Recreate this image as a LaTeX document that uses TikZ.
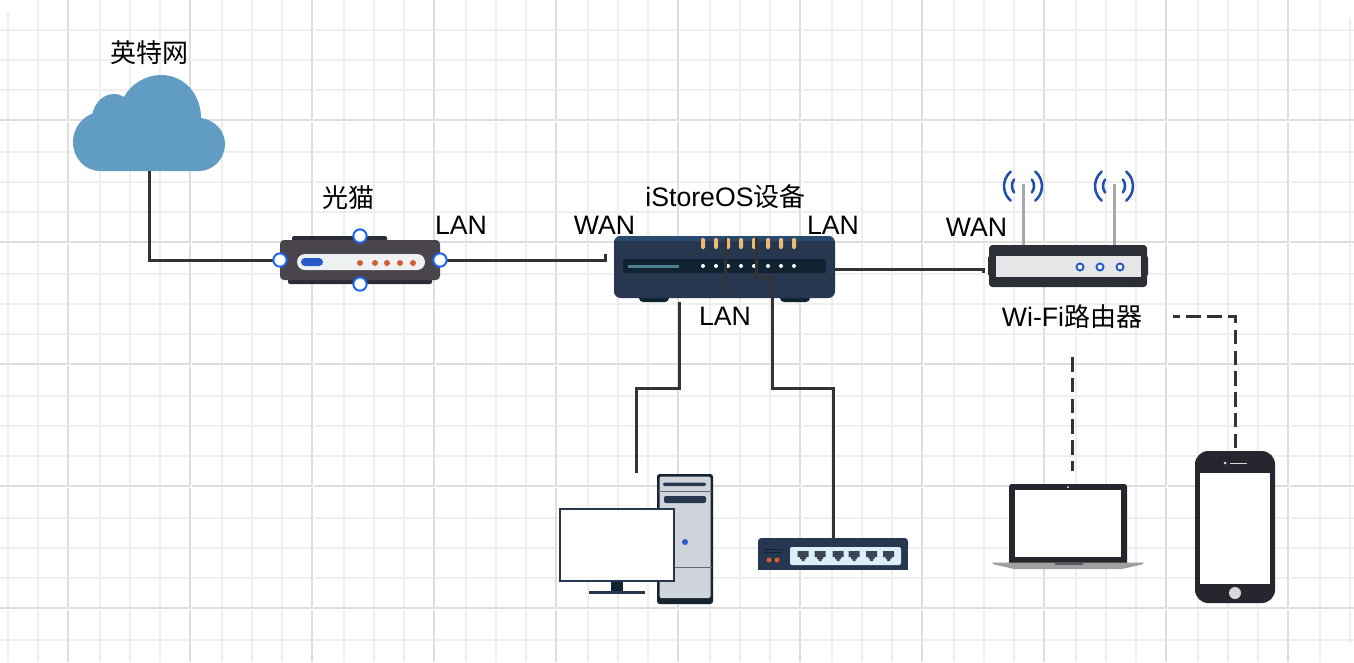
\documentclass[tikz,border=0pt]{standalone}
\usepackage{fontspec}
\setmainfont{Liberation Sans}
\newfontfamily\cjk{Noto Sans CJK SC}
\def\px{0.75pt}
\definecolor{gridminor}{HTML}{EEEEEE}
\definecolor{gridmajor}{HTML}{DEDEDE}
\definecolor{wire}{HTML}{333333}
\definecolor{cloudblue}{HTML}{619DC3}
\definecolor{navy}{HTML}{26374F}
\definecolor{navytop}{HTML}{2B4A6F}
\definecolor{deep}{HTML}{0F2430}
\definecolor{modembody}{HTML}{4A444C}
\definecolor{modemdark}{HTML}{2A2D38}
\definecolor{pale}{HTML}{EEF1F2}
\definecolor{accent}{HTML}{2A5CC8}
\definecolor{orangedot}{HTML}{D35F34}
\definecolor{led}{HTML}{EDB977}
\definecolor{handle}{HTML}{1A66F0}
\definecolor{gadget}{HTML}{26262F}
\definecolor{routerdark}{HTML}{2C3036}
\definecolor{towerfill}{HTML}{CFD3DA}
\definecolor{wifi}{HTML}{1F4FA8}
\definecolor{tealbar}{HTML}{4F8090}
\definecolor{antenna}{HTML}{A8A8A8}
\definecolor{routerface}{HTML}{E6E6E6}
\definecolor{towerdark}{HTML}{16242F}
\definecolor{towerline}{HTML}{5F6B75}
\definecolor{swpanel}{HTML}{DCEEF7}
\definecolor{swport}{HTML}{3E4456}
\definecolor{lapbase}{HTML}{A0A0A0}
\definecolor{lapnotch}{HTML}{5A5A60}
\definecolor{softgrey}{HTML}{D8D8D8}
\tikzset{
  x=0.75pt,y=-0.75pt,
  iconbox/.style={inner sep=0pt,outer sep=0pt,minimum width=#1},
  lbl/.style={inner sep=0pt,font=\fontsize{20}{22}\selectfont,text=black},
  link/.style={draw=wire,line width=2.25pt,line join=miter},
  wireless/.style={link,dash pattern=on 10.9pt off 4.7pt},
  grab/.style={circle,draw=handle,fill=white,line width=1.5pt,inner sep=0pt,minimum size=10pt},
}
\newcommand{\han}[1]{{\cjk\fontsize{19.5}{22}\selectfont #1}}
\begin{document}
\begin{tikzpicture}
\useasboundingbox (0,0) rectangle (1354,662);
\fill[white] (0,0) rectangle (1354,662);
% grid
\foreach \g in {38,100,130,160,222,252,282,344,374,404,466,496,526,588,618,648,710,740,770,832,862,892,954,984,1014,1076,1106,1136,1198,1228,1258,1320}
  \draw[gridminor,line width=1.5pt] (\g,0) -- (\g,662);
\draw[gridminor,line width=1.5pt] (8,12) -- (8,662);
\draw[gridminor,line width=1.5pt] (1350,18) -- (1350,643);
\foreach \g in {30,60,90,152,182,212,274,304,334,396,426,456,518,548,578,640}
  \draw[gridminor,line width=1.5pt] (0,\g) -- (1354,\g);
\foreach \g in {120,242,364,486,608}
  \draw[gridmajor,line width=1.5pt] (0,\g) -- (1354,\g);
\foreach \g in {68,190,312,434,556,678,800,922,1044,1166,1288}
  \draw[gridmajor,line width=1.5pt] (\g,0) -- (\g,662);
\foreach \g in {68,190,312,434,556,678,800,922,1044,1166,1288}
  \fill[white] ({\g+1},0) rectangle ({\g+2.3},662);
\foreach \g in {120,242,364,486,608}
  \fill[white] (0,{\g+1}) rectangle (1354,{\g+2.3});

% device frames
\node[iconbox=152*\px,minimum height=96*\px] (cloud) at (149,123) {};
\node[iconbox=160*\px,minimum height=48*\px] (modem) at (360,260) {};
\node[iconbox=221*\px,minimum height=66*\px] (istore) at (724.5,269) {};
\node[iconbox=160*\px,minimum height=42*\px] (router) at (1068,266) {};
\node[iconbox=154*\px,minimum height=130*\px] (pc) at (636,539) {};
\node[iconbox=150*\px,minimum height=32*\px] (switch) at (833,554) {};
\node[iconbox=152*\px,minimum height=85*\px] (laptop) at (1068,527) {};
\node[iconbox=80*\px,minimum height=152*\px] (phone) at (1235,527) {};

% cloud
\fill[cloudblue] (100,171) .. controls (85,171) and (73,158) .. (73,142)
  .. controls (73,129) and (81,118) .. (92.5,113.5)
  .. controls (95,102) and (104,94) .. (114,94)
  .. controls (118,94) and (121,95) .. (124,97)
  .. controls (131,84) and (145.6,75) .. (161,75)
  .. controls (184,75) and (201,94) .. (201,118)
  .. controls (215,120) and (225,131) .. (225,144)
  .. controls (225,159) and (213,171) .. (199,171) -- cycle;

% modem
\fill[modemdark,rounded corners=1.5pt] (292,236) rectangle (387,244);
\fill[modemdark,rounded corners=1.5pt] (288,276) rectangle (432,284);
\fill[modembody,rounded corners=3pt] (280,240) rectangle (440,280);
\fill[pale,rounded corners=6pt] (297,254) rectangle (425,270);
\fill[accent,rounded corners=3pt] (301,258) rectangle (323,266);
\foreach \x in {360,375,387,400,413} \fill[orangedot] (\x,263) circle[radius=3];

% iStoreOS device
\fill[deep,rounded corners=3pt] (639,292) rectangle (669,302);
\fill[deep,rounded corners=3pt] (780,292) rectangle (810,302);
\fill[navy,rounded corners=5pt] (614,236) rectangle (835,298);
\begin{scope}
\clip[rounded corners=5pt] (614,236) rectangle (835,298);
\fill[navytop] (614,236) rectangle (835,241);
\end{scope}
\fill[deep,rounded corners=1.5pt] (623,259) rectangle (826,273);
\fill[tealbar] (628,265) rectangle (679,268);
\foreach \x in {703,716,728,741,754,768,781,794} {
  \fill[white] (\x,266) circle[radius=2];
  \fill[led,rounded corners=1pt] ({\x-2},238) rectangle ({\x+2},249);
}

% router
\foreach \x in {1023,1114} {
  \fill[antenna] ({\x-1.5},184) rectangle ({\x+1.5},246);
  \draw[wifi,line width=1.9pt,line cap=round] ({\x-12.2},171.5) arc[start angle=230,end angle=130,radius=19];
  \draw[wifi,line width=1.9pt,line cap=round] ({\x+12.2},171.5) arc[start angle=-50,end angle=50,radius=19];
  \draw[wifi,line width=1.9pt,line cap=round] ({\x-8.9},179.5) arc[start angle=216,end angle=144,radius=11];
  \draw[wifi,line width=1.9pt,line cap=round] ({\x+8.9},179.5) arc[start angle=-36,end angle=36,radius=11];
}
\fill[routerdark,rounded corners=1.5pt] (988,256) rectangle (1148,276);
\fill[routerdark,rounded corners=2.5pt] (989,245) rectangle (1147,287);
\fill[routerface] (996,256) rectangle (1141,277);
\foreach \x in {1080,1100,1120} \draw[accent,line width=1.5pt,fill=white] (\x,267) circle[radius=3.5];

% PC
\fill[towerdark,rounded corners=2pt] (657,474) rectangle (713,604);
\fill[towerfill,rounded corners=1.5pt] (659.5,476.5) rectangle (710.5,598);
\fill[towerline] (658,490.5) rectangle (712,491.5);
\fill[towerline] (658,566.5) rectangle (712,567.5);
\fill[navy,rounded corners=1.5pt] (663,482.5) rectangle (706,486);
\fill[navy,rounded corners=1.5pt] (664,496) rectangle (706,503);
\fill[accent] (685,542) circle[radius=3];
\fill[deep] (611,581) rectangle (623,591);
\fill[navy] (589,591) rectangle (645,594);
\draw[navy,line width=1.5pt,fill=white] (560,509) rectangle (674,580.5);

% switch
\fill[navy,rounded corners=2.5pt] (758,538) rectangle (908,550);
\fill[navy] (758,544) rectangle (908,570);
\fill[swpanel,rounded corners=1.5pt] (790,547) rectangle (901,565);
\foreach \x in {803,820,838,854,871.5,888.5}
  \fill[swport] ({\x-5.5},551) -- ({\x+5.5},551) -- ({\x+5.5},557) -- ({\x+3},557) -- ({\x+3},559) -- ({\x+1.5},559) -- ({\x+1.5},561) -- ({\x-1.5},561) -- ({\x-1.5},559) -- ({\x-3},559) -- ({\x-3},557) -- ({\x-5.5},557) -- cycle;
\draw[deep,line width=0.6pt] (765,549.5) -- (782,549.5) (765,552.5) -- (782,552.5);
\fill[orangedot] (769,560) circle[radius=2.5] (777,560) circle[radius=2.5];

% laptop
\fill[gadget,rounded corners=2pt] (1009,484) rectangle (1127,566);
\fill[white] (1015,490) rectangle (1121,557);
\fill[white] (1068,487) circle[radius=1];
\fill[lapbase] (992,562.5) -- (1144,562.5) -- (1142,564.5) -- (1122,569) -- (1014,569) -- (994,564.5) -- cycle;
\fill[lapnotch] (1055,563) rectangle (1083,565);

% phone
\fill[gadget,rounded corners=10pt] (1195,451) rectangle (1275,603);
\fill[white] (1200,472.5) rectangle (1270,584);
\fill[softgrey] (1235,593) circle[radius=6];
\fill[softgrey] (1225,463) circle[radius=1.5];
\fill[softgrey] (1230,462.5) rectangle (1247,463.5);

% free connector ends
\coordinate (wanport) at (605,254);
\coordinate (lanA) at (725,238);
\coordinate (lanB) at (725,293);
\coordinate (pcout) at (679,302);
\coordinate (pcin) at (636,473);
\coordinate (swout) at (756,238);
\coordinate (swjog) at (772,277);
\coordinate (routerin) at (983,273);
\coordinate (routerwifi) at (1173.3,316);
\coordinate (laptopwifi) at (1072,357);
\coordinate (laptopend) at (1072,471);

% connectors
\draw[link] (cloud.south) |- (modem.west);
\draw[link] (modem.east) -| (wanport);
\draw[link] (istore.east) -| (routerin);
\draw[link] (lanA) -- (lanB);
\draw[link] (pcout) -- (pcout |- 0,388) -- (pcin |- 0,388) -- (pcin);
\draw[link] (swout) |- (swjog) -- (swjog |- 0,388) -- (switch.north |- 0,388) -- (switch.north);
\draw[wireless,dash phase=5.85pt] (routerwifi) -| (phone.north);
\draw[wireless] (laptopwifi) -- (laptopend);

% modem handles
\node[grab] (h1) at (modem.west) {};
\node[grab] (h2) at (modem.east) {};
\node[grab] (h3) at (modem.north) {};
\node[grab] (h4) at (modem.south) {};

% labels
\node[lbl] (t1) at (149,53) {\han{英特网}};
\node[lbl] (t2) at (348,198) {\han{光猫}};
\node[lbl] (t3) at (461,225) {LAN};
\node[lbl] (t4) at (604.5,225) {WAN};
\node[lbl] (t5) at (725.5,197) {iStoreOS\han{设备}};
\node[lbl] (t6) at (833,225) {LAN};
\node[lbl] (t7) at (725,316) {LAN};
\node[lbl] (t8) at (976.5,227) {WAN};
\node[lbl] (t9) at (1072,317) {Wi-Fi\han{路由器}};
\end{tikzpicture}
\end{document}
